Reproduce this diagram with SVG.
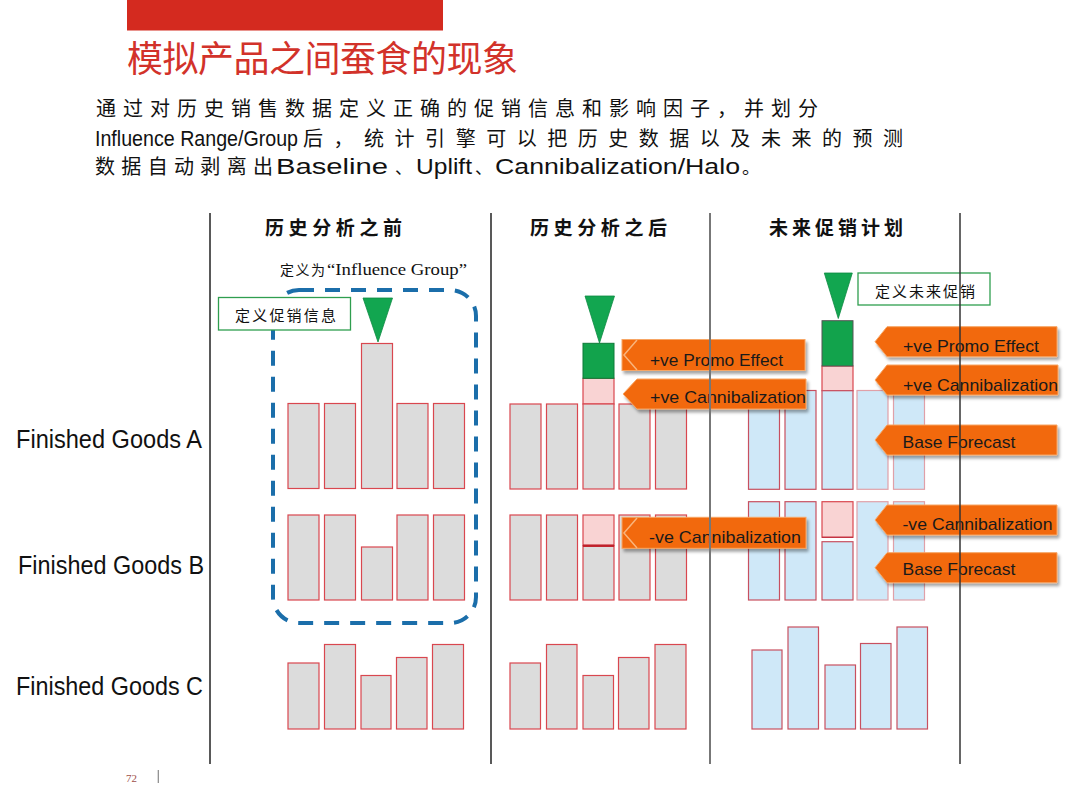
<svg xmlns="http://www.w3.org/2000/svg" width="1080" height="810" viewBox="0 0 1080 810">
<defs>
<style>
.cjk{font-family:"Noto Sans CJK SC","Noto Sans",sans-serif;fill:#111}
.hdr{font-family:"Noto Sans CJK SC",sans-serif;font-weight:bold;font-size:19px;fill:#111}
.lat{font-family:"Liberation Sans",Arial,sans-serif;fill:#111}
.lbl{font-family:"Liberation Sans",Arial,sans-serif;font-size:25px;fill:#111}
.ct{font-family:"Liberation Sans",Arial,sans-serif;font-size:17px;fill:#1a1a1a}
.g{fill:#dcdcdc;stroke:#d9474f;stroke-width:1.2}
.b{fill:#cfe8f8;stroke:#c85060;stroke-width:1.2}
.p{fill:#f9d3d3;stroke:#d9474f;stroke-width:1.2}
.gr{fill:#12a34c;stroke:#0d7a38;stroke-width:1}
.tri{fill:#12a650;stroke:#0e8a42;stroke-width:0.8}
.gbox{fill:#fff;stroke:#2f9e4f;stroke-width:1.3}
.co{fill:#f2690d;stroke:#f7a665;stroke-width:1;filter:url(#sh)}
.chev{fill:none;stroke:#f9b47c;stroke-width:1.5}
.div{stroke:#222;stroke-width:1.5}
</style>
<filter id="sh" x="-10%" y="-20%" width="125%" height="160%">
<feDropShadow dx="2" dy="3" stdDeviation="1.5" flood-color="#000" flood-opacity="0.35"/>
</filter>
</defs>
<rect width="1080" height="810" fill="#fff"/>

<g id="header">
<rect x="127" y="0" width="316" height="30.5" fill="#d42a1f"/>
<text x="127" y="72" class="cjk" style="font-size:36px;fill:#d2322a" textLength="391" lengthAdjust="spacing">模拟产品之间蚕食的现象</text>
</g>

<g id="description">
<text x="96" y="116" class="cjk" style="font-size:20px" textLength="722" lengthAdjust="spacing">通过对历史销售数据定义正确的促销信息和影响因子，并划分</text>
<text x="95" y="146" class="lat" style="font-size:22px" textLength="203" lengthAdjust="spacingAndGlyphs">Influence Range/Group</text>
<text x="303" y="146" class="cjk" style="font-size:20px" textLength="600" lengthAdjust="spacing">后，统计引擎可以把历史数据以及未来的预测</text>
<text x="95" y="174" class="cjk" style="font-size:20px" textLength="178" lengthAdjust="spacing">数据自动剥离出</text>
<text x="276" y="174" class="lat" style="font-size:22px" textLength="112" lengthAdjust="spacingAndGlyphs">Baseline</text>
<text x="395" y="174" class="cjk" style="font-size:17px">、</text>
<text x="416" y="174" class="lat" style="font-size:22px" textLength="56" lengthAdjust="spacingAndGlyphs">Uplift</text>
<text x="475" y="174" class="cjk" style="font-size:17px">、</text>
<text x="495" y="174" class="lat" style="font-size:22px" textLength="245" lengthAdjust="spacingAndGlyphs">Cannibalization/Halo</text>
<text x="742" y="174" class="cjk" style="font-size:18px">。</text>
</g>

<g id="column-headers">
<text x="265" y="235" class="hdr" textLength="137" lengthAdjust="spacing">历史分析之前</text>
<text x="530" y="235" class="hdr" textLength="137" lengthAdjust="spacing">历史分析之后</text>
<text x="769" y="235" class="hdr" textLength="134" lengthAdjust="spacing">未来促销计划</text>
</g>

<g id="row-labels">
<text x="16" y="448" class="lbl" textLength="186" lengthAdjust="spacingAndGlyphs">Finished Goods A</text>
<text x="18" y="574" class="lbl" textLength="186" lengthAdjust="spacingAndGlyphs">Finished Goods B</text>
<text x="16" y="695" class="lbl" textLength="187" lengthAdjust="spacingAndGlyphs">Finished Goods C</text>
</g>

<g id="influence-group">
<rect x="273" y="290" width="203" height="333" rx="26" ry="26" fill="none" stroke="#1b6eaa" stroke-width="4" stroke-dasharray="15 11"/>
<text x="280" y="275" class="cjk" style="font-size:14px" textLength="45" lengthAdjust="spacing">定义为</text>
<text x="327" y="275" style="font-family:'Liberation Serif','Times New Roman',serif;font-size:16px;fill:#111" textLength="140" lengthAdjust="spacingAndGlyphs">“Influence Group”</text>
</g>

<g id="define-promo-box">
<rect x="218.5" y="297.5" width="132" height="32.5" class="gbox"/>
<text x="235" y="321" class="cjk" style="font-size:15px" textLength="101" lengthAdjust="spacing">定义促销信息</text>
</g>

<g id="before-bars">
<rect x="288" y="403.5" width="31" height="85" class="g"/>
<rect x="324.5" y="403.5" width="31" height="85" class="g"/>
<rect x="361.5" y="343.5" width="31" height="145" class="g"/>
<rect x="397" y="403.5" width="31" height="85" class="g"/>
<rect x="433.5" y="403.5" width="31" height="85" class="g"/>
<rect x="288" y="515" width="31" height="85" class="g"/>
<rect x="324.5" y="515" width="31" height="85" class="g"/>
<rect x="361.5" y="547" width="31" height="53" class="g"/>
<rect x="397" y="515" width="31" height="85" class="g"/>
<rect x="433.5" y="515" width="31" height="85" class="g"/>
<rect x="288" y="663" width="31" height="66" class="g"/>
<rect x="324.5" y="644.5" width="31" height="84.5" class="g"/>
<rect x="361" y="675.5" width="30" height="53.5" class="g"/>
<rect x="396.5" y="657.5" width="30.5" height="71.5" class="g"/>
<rect x="432.5" y="644.5" width="31" height="84.5" class="g"/>
<polygon points="363,298 392.5,298 378,342" class="tri"/>
</g>

<g id="after-bars">
<rect x="510" y="404" width="31" height="85" class="g"/>
<rect x="546.5" y="404" width="31" height="85" class="g"/>
<rect x="583" y="378.3" width="31" height="25.7" class="p"/>
<rect x="583" y="404" width="31" height="85" class="g"/>
<rect x="583" y="343.3" width="31" height="35" class="gr"/>
<rect x="619" y="404" width="31" height="85" class="g"/>
<rect x="655.5" y="404" width="31" height="85" class="g"/>
<rect x="510" y="515" width="31" height="85" class="g"/>
<rect x="546.5" y="515" width="31" height="85" class="g"/>
<rect x="583" y="515" width="31" height="30.7" class="p"/>
<rect x="583" y="545.7" width="31" height="54.3" class="g"/>
<line x1="583" y1="545.7" x2="614" y2="545.7" stroke="#c0202a" stroke-width="2.5"/>
<rect x="619" y="515" width="31" height="85" class="g"/>
<rect x="655.5" y="515" width="31" height="85" class="g"/>
<rect x="510" y="663" width="30.5" height="66" class="g"/>
<rect x="546.5" y="644.5" width="30.5" height="84.5" class="g"/>
<rect x="583" y="675.5" width="30.5" height="53.5" class="g"/>
<rect x="618.5" y="657.5" width="30.5" height="71.5" class="g"/>
<rect x="655" y="644.5" width="31" height="84.5" class="g"/>
<polygon points="585,296 614.5,296 599.5,343" class="tri"/>
</g>

<g id="future-bars">
<rect x="748.5" y="390.5" width="31" height="98.8" class="b"/>
<rect x="785" y="390.5" width="31" height="98.8" class="b"/>
<rect x="822" y="366" width="31" height="24.7" class="p"/>
<rect x="822" y="390.7" width="31" height="98.6" class="b"/>
<rect x="822" y="320.7" width="31" height="45.3" class="gr" style="stroke:#555"/>
<rect x="857" y="390.5" width="31" height="98.8" class="b" style="stroke:#e0a0a8"/>
<rect x="893.5" y="390.5" width="31" height="98.8" class="b" style="stroke:#e0a0a8"/>
<rect x="748.5" y="501.7" width="31" height="98.3" class="b"/>
<rect x="785" y="501.7" width="31" height="98.3" class="b"/>
<rect x="822" y="501.7" width="31" height="35.6" class="p"/>
<rect x="822" y="541.7" width="31" height="58.3" class="b"/>
<line x1="822" y1="537.3" x2="853" y2="537.3" stroke="#c03040" stroke-width="1.2"/>
<rect x="857" y="501.7" width="31" height="98.3" class="b" style="stroke:#e0a0a8"/>
<rect x="893.5" y="501.7" width="31" height="98.3" class="b" style="stroke:#e0a0a8"/>
<rect x="752" y="650" width="30" height="79" class="b"/>
<rect x="788" y="627" width="30.5" height="102" class="b"/>
<rect x="825" y="665" width="30.5" height="64" class="b"/>
<rect x="860.5" y="643.5" width="30.5" height="85.5" class="b"/>
<rect x="897" y="627" width="30.5" height="102" class="b"/>
<polygon points="824.3,273 852.3,273 838.3,318.5" class="tri"/>
</g>

<g id="define-future-box">
<rect x="858" y="273" width="132" height="32" class="gbox"/>
<text x="875" y="296.5" class="cjk" style="font-size:15px" textLength="100" lengthAdjust="spacing">定义未来促销</text>
</g>

<g id="callout-after-promo">
<rect x="622" y="339.5" width="183" height="31" class="co"/>
<polyline points="637,340 624,355 637,370" class="chev"/>
<text x="650" y="366" class="ct" textLength="133" lengthAdjust="spacingAndGlyphs">+ve Promo Effect</text>
</g>
<g id="callout-after-pos-cannib">
<polygon points="623,394 637,379 806,379 806,409 637,409" class="co"/>
<text x="650" y="403" class="ct" textLength="156" lengthAdjust="spacingAndGlyphs">+ve Cannibalization</text>
</g>
<g id="callout-after-neg-cannib">
<rect x="622" y="517.3" width="184" height="31" class="co"/>
<polyline points="637,518 624,533 637,548" class="chev"/>
<text x="649" y="543" class="ct" textLength="152" lengthAdjust="spacingAndGlyphs">-ve Cannibalization</text>
</g>

<g id="callout-future-promo">
<polygon points="875,341.7 887,326.7 1057,326.7 1057,356.7 887,356.7" class="co"/>
<text x="903" y="352" class="ct" textLength="136" lengthAdjust="spacingAndGlyphs">+ve Promo Effect</text>
</g>
<g id="callout-future-pos-cannib">
<polygon points="875,380 887,365 1058,365 1058,395 887,395" class="co"/>
<text x="903" y="390.5" class="ct" textLength="155" lengthAdjust="spacingAndGlyphs">+ve Cannibalization</text>
</g>
<g id="callout-future-base-a">
<polygon points="875,440 887,425 1057,425 1057,455 887,455" class="co"/>
<text x="902.5" y="448" class="ct" textLength="113" lengthAdjust="spacingAndGlyphs">Base Forecast</text>
</g>
<g id="callout-future-neg-cannib">
<polygon points="875,520 887,505 1057,505 1057,535 887,535" class="co"/>
<text x="902.5" y="529.5" class="ct" textLength="150" lengthAdjust="spacingAndGlyphs">-ve Cannibalization</text>
</g>
<g id="callout-future-base-b">
<polygon points="875,567.7 887,552.7 1057,552.7 1057,582.7 887,582.7" class="co"/>
<text x="902.5" y="574.5" class="ct" textLength="113" lengthAdjust="spacingAndGlyphs">Base Forecast</text>
</g>

<g id="connectors">
<line x1="210" y1="213" x2="210" y2="764" class="div"/>
<line x1="491" y1="213" x2="491" y2="764" class="div"/>
<line x1="710" y1="213" x2="710" y2="764" class="div" style="stroke:#777;stroke-width:2"/>
<line x1="960" y1="213" x2="960" y2="764" class="div" style="stroke:#333"/>
</g>

<g id="footer">
<text x="126" y="782" style="font-family:'Liberation Serif',serif;font-size:11px;fill:#a0504a">72</text>
<line x1="158.3" y1="770" x2="158.3" y2="783" stroke="#888" stroke-width="1.2"/>
</g>
</svg>
